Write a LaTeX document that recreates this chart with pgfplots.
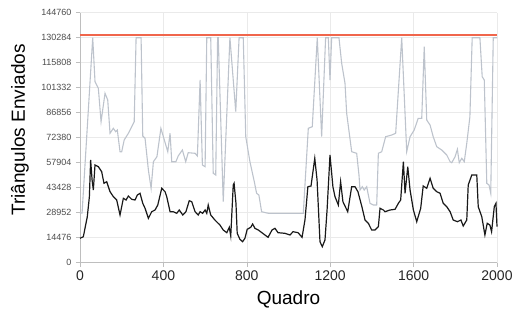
\documentclass[border=0pt]{standalone}
\usepackage{fontspec}
\setmainfont{Liberation Sans}
\usepackage{pgfplots}
\pgfplotsset{compat=1.18}
\definecolor{greyline}{rgb}{0.74,0.765,0.80}
\definecolor{budgetred}{rgb}{0.94,0.40,0.30}
\definecolor{gridc}{rgb}{0.918,0.918,0.918}
\definecolor{axisc}{rgb}{0.745,0.745,0.745}
\begin{document}
\begin{tikzpicture}
\begin{axis}[
  scale only axis,
  width=417pt, height=250pt,
  xmin=0, xmax=2000, ymin=0, ymax=144760,
  axis x line*=bottom, axis y line*=left,
  axis line style={axisc, line width=0.8pt},
  xtick={0,400,800,1200,1600,2000},
  ytick={0,14476,28952,43428,57904,72380,86856,101332,115808,130284,144760},
  grid=major,
  major grid style={gridc, line width=0.5pt},
  tick align=outside,
  major tick length=4pt,
  tick style={axisc, line width=0.6pt},
  scaled ticks=false,
  /pgf/number format/assume math mode=true,
  /pgf/number format/fixed,
  /pgf/number format/1000 sep={},
  yticklabel style={font=\fontsize{9}{10}\selectfont, text=black!70, xshift=-1pt},
  xticklabel style={font=\fontsize{14}{16}\selectfont, text=black!85},
  xlabel={Quadro},
  ylabel={Triângulos Enviados},
  xlabel style={font=\fontsize{19}{22}\selectfont, at={(axis description cs:0.5,-0.168)}, anchor=base},
  ylabel style={font=\fontsize{19}{22}\selectfont, at={(axis description cs:-0.132,0.531)}, anchor=base, rotate=0},
  clip=false,
]
\addplot[draw=greyline, line width=1.1pt] table {
0 28778
10 28778
61 130284
72 104806
88 100985
101 81645
120 98089
133 94209
144 74928
160 77823
171 75854
179 76839
192 64273
200 64273
212 71048
232 74928
248 78749
260 81645
269 130284
293 130284
301 73364
312 72032
328 53677
341 43080
352 58483
369 61378
388 77823
421 64273
432 74928
440 58483
460 58483
471 61783
491 65258
507 58483
519 63694
552 63346
563 61783
576 105791
587 56572
600 55588
608 130284
627 130284
639 51766
651 50782
660 130284
663 130284
687 35321
719 130284
747 87435
763 130284
783 130284
795 72959
815 58483
836 46902
847 40185
858 39201
871 29531
903 28605
1071 28605
1095 77823
1114 78749
1138 130284
1159 72959
1178 130284
1191 130284
1199 105791
1207 130284
1242 130284
1255 115461
1271 103880
1279 86500
1303 64273
1327 63346
1338 50782
1343 42096
1354 44007
1363 42096
1375 44007
1391 34395
1407 33410
1423 33410
1431 63346
1447 64273
1466 72959
1495 73943
1514 74928
1543 130284
1567 64273
1583 72959
1603 76839
1622 83614
1639 83614
1651 125073
1663 82630
1679 79734
1694 72959
1711 67169
1735 65258
1759 62363
1775 58483
1783 57904
1799 61378
1810 65663
1819 57904
1831 60452
1843 58483
1855 69137
1870 84540
1881 130284
1918 130284
1929 107701
1939 105791
1951 45976
1962 44991
1970 40185
1982 130284
2000 130284
};
\addplot[draw=black!90, line width=1.2pt] table {
0 14130
16 15055
35 26636
45 38217
51 59467
58 47887
64 42096
72 56572
88 55588
104 52693
115 45976
128 46902
144 41112
160 38217
176 36306
192 27620
208 37290
221 36306
232 38622
248 36711
264 36306
275 39201
288 40185
301 34395
312 31500
328 25709
344 29531
360 30515
373 33410
392 43080
408 41112
416 38217
432 29531
447 29531
464 28605
476 30515
493 27620
508 29531
524 35900
536 35321
552 29531
567 27620
576 29531
588 28605
600 30515
608 28605
615 33410
627 27620
647 24725
671 21830
687 18935
704 17371
716 20498
723 15460
735 44991
739 45976
748 34395
754 17024
767 13550
780 12160
791 14130
802 19340
819 20498
828 22409
839 19919
855 18935
887 16040
902 14708
921 18935
935 19919
950 17371
983 17024
1007 16040
1022 17950
1046 17371
1065 14708
1079 24725
1093 44007
1108 44413
1126 60452
1137 47887
1151 12160
1162 9265
1175 13144
1185 30515
1199 62363
1213 44007
1223 38217
1239 33410
1250 46902
1261 35321
1284 29531
1303 44007
1319 44007
1333 41112
1352 32426
1367 24725
1383 22814
1399 18935
1415 18935
1431 20845
1439 31500
1455 30515
1463 29531
1487 30515
1511 30921
1527 34395
1538 36306
1551 58483
1559 40185
1572 55588
1583 42096
1599 30515
1615 23741
1634 31500
1646 44413
1663 43080
1679 48871
1694 43080
1711 41112
1727 40185
1742 34395
1759 32426
1775 29531
1790 24725
1810 23741
1827 24725
1838 21251
1855 24725
1862 44991
1879 50782
1903 50782
1910 32426
1927 26636
1942 16040
1953 22814
1966 21830
1974 17950
1987 32426
1995 34395
2000 20845
};
\addplot[draw=budgetred, line width=2.2pt] table {
0 131700
2000 131700
};
\end{axis}
\path[use as bounding box] (-80pt,-53.3pt) rectangle (436pt,262.7pt);
\end{tikzpicture}
\end{document}
